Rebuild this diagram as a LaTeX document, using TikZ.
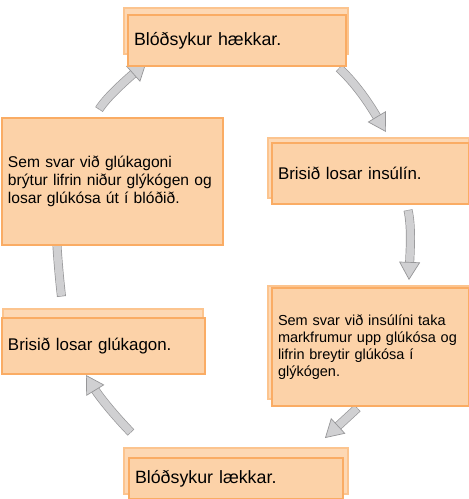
\documentclass[tikz,border=0pt]{standalone}
\usepackage{fontspec}
\setmainfont{Liberation Sans}
\usepackage{xcolor}
\usepackage{tikz}
\usetikzlibrary{arrows.meta}
\definecolor{boxFill}{RGB}{252,210,168}
\definecolor{boxBorder}{RGB}{250,172,100}
\definecolor{backFill}{RGB}{253,216,180}
\definecolor{backBorder}{RGB}{252,196,142}
\definecolor{arrowFill}{RGB}{208,208,210}
\definecolor{arrowBorder}{RGB}{150,150,152}
\tikzstyle{tsText} = [
    text=black,
    align=left,
    inner xsep=6pt,
    inner ysep=0pt
]
\tikzstyle{tsBackRect} = [
    rectangle,
    draw=backBorder,
    fill=backFill,
    line width=1.5pt,
    inner sep=0pt,
    anchor=north west
]
\tikzstyle{tsFrontRect} = [
    rectangle,
    tsText,
    draw=boxBorder,
    fill=boxFill,
    line width=2pt,
    anchor=north west
]
\tikzstyle{tsBlockArrow} = [
    line width=0.7pt,
    draw=arrowFill,
    -{Triangle[length=18pt, width=21pt, color=arrowBorder, fill=arrowFill]},
    preaction={draw=arrowBorder, line width=9pt, shorten >=14pt, -},
    preaction={draw=arrowFill, line width=7.6pt, shorten >=13pt, shorten <=0.7pt, -}
]

\begin{document}
\begin{tikzpicture} [x=1pt, y=-1pt]
        \useasboundingbox (0,0) rectangle (469,499);

        % Arrow end points
        \coordinate (arrowStart1) at (339,68);
        \coordinate (arrowEnd1) at (386,132);
        \coordinate (arrowStart2) at (408,210);
        \coordinate (arrowEnd2) at (409,280);
        \coordinate (arrowStart3) at (357.5,408);
        \coordinate (arrowEnd3) at (325,438);
        \coordinate (arrowStart4) at (131,432.5);
        \coordinate (arrowEnd4) at (86,375);
        \coordinate (arrowStart5) at (61.5,296.5);
        \coordinate (arrowEnd5) at (56,222);
        \coordinate (arrowStart6) at (99,109.5);
        \coordinate (arrowEnd6) at (146.5,62);

        % Cycle arrows
        \draw[tsBlockArrow] (arrowStart1) .. controls (360,88) and (372.5,109.5) .. (arrowEnd1);
        \draw[tsBlockArrow] (arrowStart2) .. controls (412,228) and (410,252) .. (arrowEnd2);
        \draw[tsBlockArrow] (arrowStart3) -- (arrowEnd3);
        \draw[tsBlockArrow] (arrowStart4) .. controls (116,417) and (100,398) .. (arrowEnd4);
        \draw[tsBlockArrow] (arrowStart5) .. controls (59,275) and (57,250) .. (arrowEnd5);
        \draw[tsBlockArrow] (arrowStart6) .. controls (107,96.5) and (128,78.5) .. (arrowEnd6);

        % Back boxes
        \node[tsBackRect, minimum width=224pt, minimum height=46pt] (hkBack) at (123,7) {};
        \node[tsBackRect, minimum width=201pt, minimum height=60pt] (insBack) at (267,137) {};
        \node[tsBackRect, minimum width=201pt, minimum height=113pt] (insResBack) at (267,285) {};
        \node[tsBackRect, minimum width=224pt, minimum height=46pt] (lkBack) at (123,447) {};
        \node[tsBackRect, minimum width=200pt, minimum height=57pt] (glBack) at (2,308) {};

        % Front boxes
        \node[  tsFrontRect,
                minimum width=218pt,
                minimum height=51pt,
                text width=206pt,
                font=\fontsize{17.8}{21}\selectfont] (hk) at (127,14) {Blóðsykur hækkar.};

        \node[  tsFrontRect,
                minimum width=197pt,
                minimum height=61pt,
                text width=185pt,
                font=\fontsize{16.9}{20}\selectfont] (ins) at (271,142) {Brisið losar insúlín.};

        \node[  tsFrontRect,
                minimum width=197pt,
                minimum height=118pt,
                text width=185pt,
                font=\fontsize{14.5}{16.8}\selectfont] (insRes) at (271,287)
                {Sem svar við insúlíni taka\\markfrumur upp glúkósa og\\lifrin breytir glúkósa í\\glýkógen.};

        \node[  tsFrontRect,
                minimum width=214pt,
                minimum height=41pt,
                text width=202pt,
                font=\fontsize{17.8}{21}\selectfont] (lk) at (128,457) {Blóðsykur lækkar.};

        \node[  tsFrontRect,
                minimum width=203pt,
                minimum height=56pt,
                text width=191pt,
                font=\fontsize{16.9}{20}\selectfont] (gl) at (1,317) {Brisið losar glúkagon.};

        \node[  tsFrontRect,
                minimum width=221pt,
                minimum height=127pt,
                text width=209pt,
                font=\fontsize{15.6}{18}\selectfont] (glRes) at (1,117)
                {Sem svar við glúkagoni\\brýtur lifrin niður glýkógen og\\losar glúkósa út í blóðið.};

\end{tikzpicture}
\end{document}
